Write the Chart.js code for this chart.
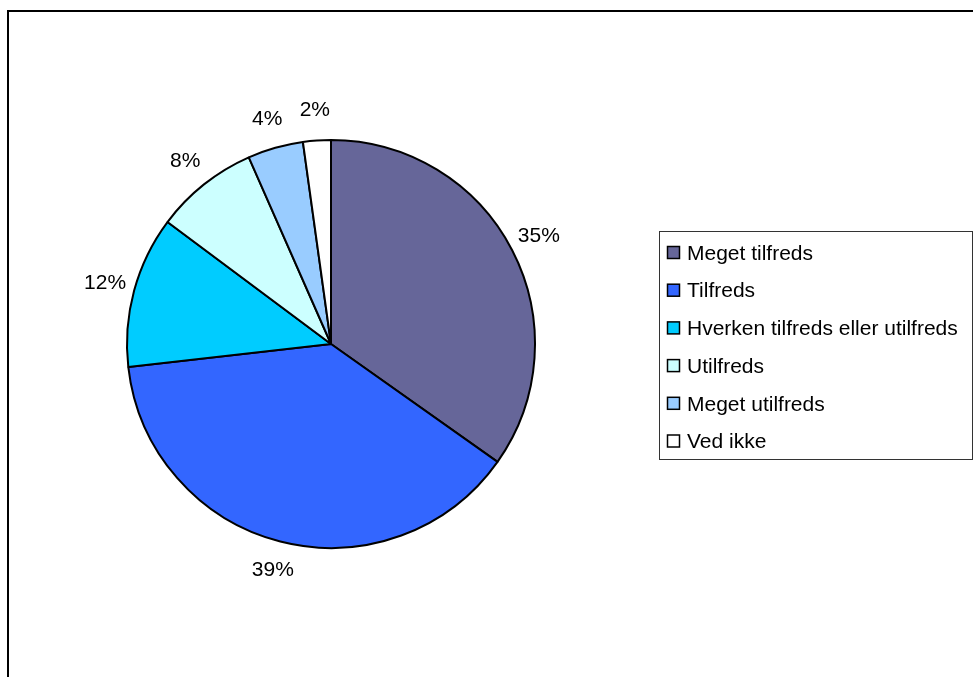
<!DOCTYPE html>
<html>
<head>
<meta charset="utf-8">
<script src="https://cdn.jsdelivr.net/npm/chart.js@4/dist/chart.umd.min.js"></script>
<style>
html,body{margin:0;padding:0;background:#fff;}
canvas{display:block;}
</style>
</head>
<body>
<canvas id="c" width="973" height="677"></canvas>
<script>
const categories = ["Meget tilfreds", "Tilfreds", "Hverken tilfreds eller utilfreds", "Utilfreds", "Meget utilfreds", "Ved ikke"];
const values = [34.8, 38.4, 12.0, 8.2, 4.4, 2.2];
const valueLabels = ["35%", "39%", "12%", "8%", "4%", "2%"];
const colors = ["#666699", "#3366FF", "#00CCFF", "#CCFFFF", "#99CCFF", "#FFFFFF"];

const FONT = "'Liberation Sans', Arial, sans-serif";

const framePlugin = {
  id: 'frame',
  beforeDraw(chart) {
    const ctx = chart.ctx;
    ctx.save();
    ctx.fillStyle = '#fff';
    ctx.fillRect(0, 0, chart.width, chart.height);
    ctx.strokeStyle = '#000';
    ctx.lineWidth = 2;
    ctx.strokeRect(8, 11, chart.width + 20, chart.height + 20);
    ctx.restore();
  }
};

const labelsPlugin = {
  id: 'sliceLabels',
  afterDatasetsDraw(chart) {
    const ctx = chart.ctx;
    const meta = chart.getDatasetMeta(0);
    ctx.save();
    ctx.font = "21px " + FONT;
    ctx.fillStyle = '#000';
    ctx.textAlign = 'center';
    ctx.textBaseline = 'middle';
    meta.data.forEach((arc, i) => {
      const p = arc.getProps(['x', 'y', 'startAngle', 'endAngle', 'outerRadius'], true);
      const mid = (p.startAngle + p.endAngle) / 2;
      const r = p.outerRadius + 30;
      ctx.fillText(valueLabels[i], p.x + Math.cos(mid) * r, p.y + Math.sin(mid) * r);
    });
    ctx.restore();
  }
};

const legendPlugin = {
  id: 'customLegend',
  afterDraw(chart) {
    const ctx = chart.ctx;
    ctx.save();
    ctx.strokeStyle = '#333';
    ctx.lineWidth = 1;
    ctx.strokeRect(659.5, 231.5, 313, 228);
    ctx.font = "21px " + FONT;
    ctx.textBaseline = 'middle';
    ctx.textAlign = 'left';
    const y0 = 253, dy = 37.7;
    categories.forEach((name, i) => {
      const y = y0 + i * dy;
      ctx.fillStyle = colors[i];
      ctx.fillRect(667.5, y - 6.5, 12, 12);
      ctx.strokeStyle = '#000';
      ctx.lineWidth = 1.5;
      ctx.strokeRect(667.5, y - 6.5, 12, 12);
      ctx.fillStyle = '#000';
      ctx.fillText(name, 687, y + 1);
    });
    ctx.restore();
  }
};

new Chart(document.getElementById('c'), {
  type: 'pie',
  data: {
    labels: categories,
    datasets: [{
      data: values,
      backgroundColor: colors,
      borderColor: '#000',
      borderWidth: 2,
      borderAlign: 'center'
    }]
  },
  options: {
    responsive: false,
    animation: false,
    devicePixelRatio: 1,
    layout: { padding: { left: 126, right: 437, top: 139, bottom: 128 } },
    plugins: {
      legend: { display: false },
      tooltip: { enabled: false }
    }
  },
  plugins: [framePlugin, labelsPlugin, legendPlugin]
});
</script>
</body>
</html>
